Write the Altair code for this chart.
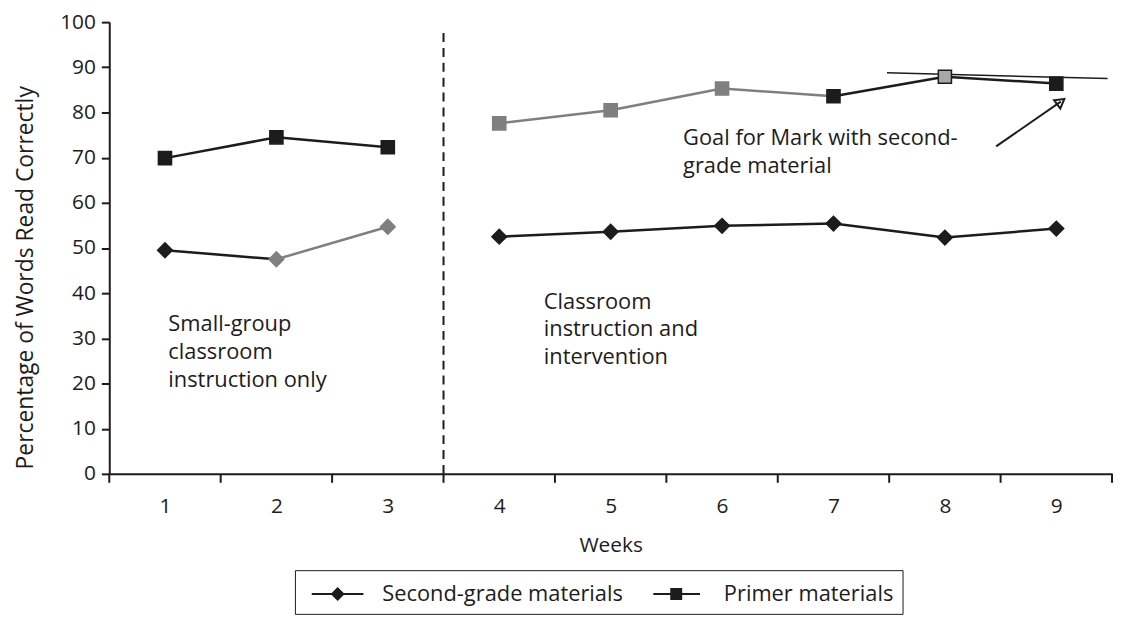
import altair as alt
import pandas as pd

weeks = [1, 2, 3, 4, 5, 6, 7, 8, 9]
phase = [1, 1, 1, 2, 2, 2, 2, 2, 2]
second_grade = [49.5, 47.5, 54.7, 52.5, 53.6, 54.9, 55.4, 52.3, 54.3]
primer = [69.9, 74.5, 72.3, 77.6, 80.5, 85.3, 83.6, 87.9, 86.4]
series_names = ["Second-grade materials", "Primer materials"]
tick_edges = [0.5, 1.5, 2.5, 3.5, 4.5, 5.5, 6.5, 7.5, 8.5, 9.5]
y_ticks = [0, 10, 20, 30, 40, 50, 60, 70, 80, 90, 100]

BLACK = "#1c1c1c"
GRAY = "#7f7f7f"
LGRAY = "#a8a8a8"

second_fill = [BLACK, GRAY, GRAY, BLACK, BLACK, BLACK, BLACK, BLACK, BLACK]
second_stroke = [BLACK, GRAY, GRAY, BLACK, BLACK, BLACK, BLACK, BLACK, BLACK]
second_seg = [BLACK, GRAY, None, BLACK, BLACK, BLACK, BLACK, BLACK]
primer_fill = [BLACK, BLACK, BLACK, GRAY, GRAY, GRAY, BLACK, LGRAY, BLACK]
primer_stroke = [BLACK, BLACK, BLACK, GRAY, GRAY, GRAY, BLACK, BLACK, BLACK]
primer_seg = [BLACK, BLACK, None, GRAY, GRAY, GRAY, BLACK, BLACK]

phase_break = [3.5]
phase_bottom = [0]
phase_top = [98]

goal_x = [7.48, 9.46]
goal_y = [88.8, 87.5]
arrow_x = [8.46, 9.04]
arrow_y = [72.5, 82.4]

notes_text = ["Small-group\nclassroom\ninstruction only",
              "Classroom\ninstruction and\nintervention",
              "Goal for Mark with second-\ngrade material"]
notes_x = [1.03, 4.4, 5.65]
notes_y = [35.3, 40.3, 76.5]

W, H = 1010, 455
FONT = "Open Sans"
FS = 21
FS_TXT = 22

# ---------- tables ----------
pts = []
for name, vals, fills, strokes in [(series_names[0], second_grade, second_fill, second_stroke),
                                   (series_names[1], primer, primer_fill, primer_stroke)]:
    for w, v, f, s in zip(weeks, vals, fills, strokes):
        pts.append({"week": w, "value": v, "series": name, "fill": f, "stroke": s})
pts = pd.DataFrame(pts)

segs = []
sid = 0
for name, vals, cols in [(series_names[0], second_grade, second_seg),
                         (series_names[1], primer, primer_seg)]:
    for i, c in enumerate(cols):
        if c is None or phase[i] != phase[i + 1]:
            continue
        sid += 1
        segs.append({"seg": sid, "week": weeks[i], "value": vals[i], "color": c})
        segs.append({"seg": sid, "week": weeks[i + 1], "value": vals[i + 1], "color": c})
segs = pd.DataFrame(segs)

xscale = alt.Scale(domain=[0.5, 9.5], nice=False, zero=False)
yscale = alt.Scale(domain=[0, 100], nice=False)

x_axis = alt.Axis(values=weeks, format="d", ticks=False, tickSize=0, grid=False, domainColor=BLACK,
                  domainWidth=2, labelFontSize=FS, labelFont=FONT, labelColor=BLACK,
                  labelPadding=22, title="Weeks", titleFontSize=FS, titleFont=FONT,
                  titleFontWeight="normal", titleColor=BLACK, titlePadding=18)
y_axis = alt.Axis(values=y_ticks, tickSize=8, tickWidth=2, tickColor=BLACK, grid=False,
                  domainColor=BLACK, domainWidth=2, labelFontSize=FS, labelFont=FONT,
                  labelColor=BLACK, labelPadding=6,
                  title="Percentage of Words Read Correctly", titleFontSize=23,
                  titleFont=FONT, titleFontWeight="normal", titleColor=BLACK,
                  titleX=-84, titleY=257, titleBaseline="middle", titleAlign="center",
                  titleAngle=270)

lines = alt.Chart(segs).mark_line(strokeWidth=2.5).encode(
    x=alt.X("week:Q", scale=xscale, axis=x_axis),
    y=alt.Y("value:Q", scale=yscale, axis=y_axis),
    detail="seg:N",
    color=alt.Color("color:N", scale=None),
    order="week:Q",
)

def point_layer(name, shape, size):
    return alt.Chart(pts).transform_filter(alt.datum.series == name).mark_point(
        filled=True, strokeWidth=1.5, opacity=1, shape=shape, size=size).encode(
        x=alt.X("week:Q", scale=xscale),
        y=alt.Y("value:Q", scale=yscale),
        fill=alt.Fill("fill:N", scale=None),
        stroke=alt.Stroke("stroke:N", scale=None),
    )

diamonds = point_layer(series_names[0], "diamond", 220)
squares = point_layer(series_names[1], "square", 175)

# legend glyphs: a thin filled bar (the line) plus the marker, drawn as one filled path
legend_paths = ["M-0.47,-0.07L3,-0.07L3,0.07L-0.47,0.07Z"
                "M1.27,-0.47L1.74,0L1.27,0.47L0.8,0Z",
                "M-0.47,-0.07L2.67,-0.07L2.67,0.07L-0.47,0.07Z"
                "M0.67,-0.4L1.47,-0.4L1.47,0.4L0.67,0.4Z"]
legend_layer = alt.Chart(pts).transform_filter(alt.datum.week < 0).mark_point(
    filled=True, color=BLACK, opacity=1).encode(
    x=alt.X("week:Q", scale=xscale),
    y=alt.Y("value:Q", scale=yscale),
    shape=alt.Shape("series:N", scale=alt.Scale(domain=series_names, range=legend_paths),
                    legend=alt.Legend(title=None, orient="none", direction="horizontal",
                                      legendX=187, legendY=552, strokeColor=BLACK,
                                      padding=9, symbolSize=900, symbolStrokeWidth=0,
                                      symbolFillColor=BLACK,
                                      symbolOpacity=1, labelLimit=500,
                                      labelFontSize=FS_TXT, labelFont=FONT, labelColor=BLACK,
                                      labelOffset=49, columnPadding=22)),
)

phase_df = pd.DataFrame({"x": phase_break, "bottom": phase_bottom, "top": phase_top})
phase_rule = alt.Chart(phase_df).mark_rule(strokeDash=[9, 6], strokeWidth=2, color=BLACK).encode(
    x=alt.X("x:Q", scale=xscale), y=alt.Y("bottom:Q", scale=yscale), y2="top:Q")

ticks_df = pd.DataFrame({"x": tick_edges})
x_ticks = alt.Chart(ticks_df).mark_rule(strokeWidth=2, color=BLACK).encode(
    x=alt.X("x:Q", scale=xscale), y=alt.value(H), y2=alt.value(H + 9))

notes_df = pd.DataFrame({"x": notes_x, "y": notes_y, "t": notes_text})
notes = alt.Chart(notes_df).mark_text(align="left", baseline="top", fontSize=FS_TXT, font=FONT,
                                      lineBreak="\n", lineHeight=28, color=BLACK).encode(
    x=alt.X("x:Q", scale=xscale), y=alt.Y("y:Q", scale=yscale), text="t:N")

goal_df = pd.DataFrame({"x": [goal_x[0]], "x2": [goal_x[1]], "y": [goal_y[0]], "y2": [goal_y[1]]})
goal = alt.Chart(goal_df).mark_rule(strokeWidth=1.5, color=BLACK).encode(
    x=alt.X("x:Q", scale=xscale), x2="x2:Q", y=alt.Y("y:Q", scale=yscale), y2="y2:Q")

arrow_df = pd.DataFrame({"x": [arrow_x[0]], "x2": [arrow_x[1]], "y": [arrow_y[0]], "y2": [arrow_y[1]]})
arrow = alt.Chart(arrow_df).mark_rule(strokeWidth=2, color=BLACK).encode(
    x=alt.X("x:Q", scale=xscale), x2="x2:Q", y=alt.Y("y:Q", scale=yscale), y2="y2:Q")
head_df = pd.DataFrame({"x": [arrow_x[1]], "y": [arrow_y[1]]})
head = alt.Chart(head_df).mark_point(shape="triangle-up", angle=53, size=110, filled=False,
                                     strokeWidth=2, color=BLACK, opacity=1).encode(
    x=alt.X("x:Q", scale=xscale), y=alt.Y("y:Q", scale=yscale))

chart = alt.layer(lines, phase_rule, x_ticks, goal, diamonds, squares, arrow, head, notes,
                  legend_layer).properties(
    width=W, height=H,
    padding={"left": 102, "top": 12, "right": 3, "bottom": 150},
    autosize=alt.AutoSizeParams(type="none"),
    background="white",
).configure_view(stroke=None)

chart.save("out.html", embed_options={"renderer": "svg", "actions": False})
